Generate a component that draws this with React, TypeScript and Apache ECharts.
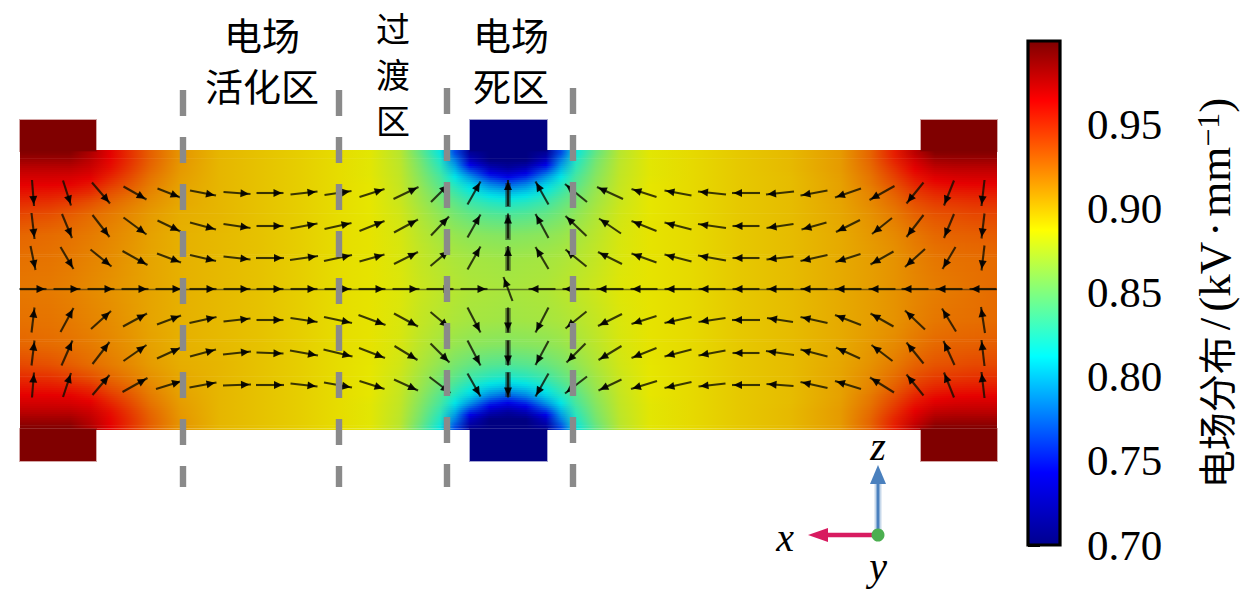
import React, { useEffect, useRef } from "react";
import * as echarts from "echarts";

// Colour scale of the field
const scaleValues = [0.7, 0.743, 0.812, 0.887, 0.964, 0.9993];
const scaleColors = [[0, 0, 143], [0, 0, 255], [0, 255, 255], [255, 255, 0], [255, 0, 0], [128, 0, 0]];
const scaleTicks = [0.7, 0.75, 0.8, 0.85, 0.9, 0.95];
const fieldShade = 0.9;

// Field samples: x stations (left to right) and one list per height (top half, the bottom half mirrors it)
const stationX = [20, 50, 70, 90, 110, 130, 150, 180, 220, 260, 300, 340, 370, 400, 420, 440, 455, 470, 490, 508, 526, 546, 561, 576, 596, 620, 650, 690, 740, 790, 840, 870, 895, 915, 935, 955, 975, 997];
const row153 = [0.998, 0.998, 0.998, 0.985, 0.965, 0.948, 0.932, 0.914, 0.903, 0.899, 0.895, 0.89, 0.886, 0.872, 0.845, 0.815, 0.765, 0.71, 0.7, 0.7, 0.7, 0.71, 0.765, 0.815, 0.845, 0.872, 0.886, 0.891, 0.897, 0.902, 0.912, 0.93, 0.955, 0.98, 0.998, 0.998, 0.998, 0.998];
const row160 = [0.99, 0.99, 0.99, 0.98, 0.963, 0.948, 0.932, 0.914, 0.903, 0.899, 0.895, 0.89, 0.886, 0.873, 0.85, 0.822, 0.78, 0.725, 0.7, 0.7, 0.7, 0.725, 0.78, 0.822, 0.85, 0.873, 0.886, 0.891, 0.897, 0.902, 0.912, 0.93, 0.953, 0.972, 0.988, 0.99, 0.99, 0.99];
const row168 = [0.98, 0.98, 0.98, 0.974, 0.96, 0.945, 0.93, 0.913, 0.903, 0.899, 0.895, 0.89, 0.886, 0.874, 0.853, 0.828, 0.795, 0.755, 0.722, 0.712, 0.722, 0.755, 0.795, 0.828, 0.853, 0.874, 0.886, 0.891, 0.897, 0.902, 0.912, 0.928, 0.948, 0.965, 0.978, 0.98, 0.98, 0.98];
const row176 = [0.972, 0.972, 0.971, 0.967, 0.953, 0.94, 0.926, 0.912, 0.903, 0.899, 0.895, 0.89, 0.886, 0.875, 0.856, 0.835, 0.81, 0.785, 0.752, 0.74, 0.752, 0.785, 0.81, 0.835, 0.856, 0.875, 0.886, 0.891, 0.897, 0.901, 0.911, 0.925, 0.943, 0.958, 0.968, 0.971, 0.972, 0.972];
const row184 = [0.965, 0.965, 0.964, 0.958, 0.946, 0.935, 0.923, 0.91, 0.903, 0.899, 0.895, 0.89, 0.887, 0.876, 0.859, 0.84, 0.822, 0.805, 0.782, 0.77, 0.782, 0.805, 0.822, 0.84, 0.859, 0.876, 0.887, 0.891, 0.897, 0.901, 0.91, 0.923, 0.938, 0.952, 0.96, 0.963, 0.964, 0.964];
const row192 = [0.958, 0.957, 0.955, 0.95, 0.938, 0.93, 0.92, 0.909, 0.903, 0.899, 0.895, 0.89, 0.887, 0.877, 0.862, 0.846, 0.832, 0.818, 0.803, 0.797, 0.803, 0.818, 0.832, 0.846, 0.862, 0.877, 0.887, 0.891, 0.897, 0.901, 0.91, 0.92, 0.933, 0.945, 0.952, 0.955, 0.956, 0.956];
const row202 = [0.95, 0.948, 0.944, 0.938, 0.93, 0.923, 0.916, 0.908, 0.903, 0.899, 0.895, 0.89, 0.887, 0.878, 0.865, 0.852, 0.842, 0.832, 0.824, 0.82, 0.824, 0.832, 0.842, 0.852, 0.865, 0.878, 0.887, 0.891, 0.897, 0.901, 0.909, 0.918, 0.928, 0.938, 0.944, 0.946, 0.948, 0.948];
const row215 = [0.94, 0.937, 0.933, 0.928, 0.923, 0.918, 0.912, 0.906, 0.903, 0.899, 0.895, 0.89, 0.887, 0.88, 0.869, 0.859, 0.851, 0.845, 0.84, 0.838, 0.84, 0.845, 0.851, 0.859, 0.869, 0.88, 0.887, 0.891, 0.897, 0.901, 0.908, 0.915, 0.923, 0.931, 0.936, 0.938, 0.94, 0.94];
const row235 = [0.93, 0.928, 0.926, 0.923, 0.919, 0.915, 0.91, 0.905, 0.902, 0.899, 0.895, 0.89, 0.888, 0.882, 0.873, 0.866, 0.861, 0.858, 0.856, 0.855, 0.856, 0.858, 0.861, 0.866, 0.873, 0.882, 0.888, 0.891, 0.897, 0.901, 0.907, 0.913, 0.918, 0.924, 0.929, 0.931, 0.932, 0.933];
const row260 = [0.926, 0.925, 0.923, 0.92, 0.917, 0.913, 0.909, 0.905, 0.902, 0.899, 0.895, 0.89, 0.888, 0.883, 0.876, 0.871, 0.868, 0.866, 0.865, 0.864, 0.865, 0.866, 0.868, 0.871, 0.876, 0.883, 0.888, 0.891, 0.897, 0.901, 0.907, 0.911, 0.915, 0.92, 0.924, 0.926, 0.927, 0.928];
const row290 = [0.924, 0.923, 0.921, 0.918, 0.915, 0.912, 0.909, 0.905, 0.902, 0.899, 0.895, 0.89, 0.888, 0.884, 0.878, 0.874, 0.871, 0.869, 0.868, 0.867, 0.868, 0.869, 0.872, 0.875, 0.879, 0.885, 0.888, 0.891, 0.897, 0.901, 0.907, 0.911, 0.915, 0.919, 0.922, 0.924, 0.926, 0.928];
const fieldRowY = [150, 153, 160, 168, 176, 184, 192, 202, 215, 235, 260, 290, 320, 345, 365, 378, 388, 396, 404, 412, 420, 427, 430];
const fieldRows = [row153, row153, row160, row168, row176, row184, row192, row202, row215, row235, row260, row290, row260, row235, row215, row202, row192, row184, row176, row168, row160, row153, row153];

// Electrodes
const electrodeX0 = [20, 921, 470, 20, 921, 470];
const electrodeX1 = [96, 997, 547, 96, 997, 547];
const electrodeY0 = [120, 120, 120, 429, 429, 429];
const electrodeY1 = [151, 151, 151, 461, 461, 461];
const electrodeV = [0.9993, 0.9993, 0.7, 0.9993, 0.9993, 0.7];

// Arrow field: positions and tail-to-head components per row
const arrowX = [33, 67, 101, 135, 169, 203, 237, 270, 304, 338, 372, 406, 440, 474, 508, 542, 576, 610, 644, 678, 712, 746, 780, 814, 848, 882, 915, 949, 983];
const arrowY = [193, 226, 258, 289, 320, 353, 385];
const dx193 = [2, 8, 18, 23, 23, 26, 27, 27, 27, 27, 25, 25, 18, 13, 0, -13, -22, -26, -25, -27, -28, -28, -28, -27, -26, -25, -17, -10, -3];
const dy193 = [26, 25, 21, 13, 9, 5, 2, 0, -3, -4, -8, -12, -18, -23, -26, -23, -18, -12, -8, -5, -3, 0, 3, 5, 9, 14, 21, 25, 26];
const dx226 = [3, 10, 17, 23, 23, 26, 27, 27, 27, 27, 25, 24, 18, 13, 0, -13, -21, -22, -25, -27, -28, -27, -27, -25, -24, -20, -17, -10, -3];
const dy226 = [26, 24, 22, 17, 11, 7, 4, 0, -5, -6, -10, -13, -19, -23, -25, -24, -20, -15, -10, -7, -4, 0, 4, 7, 12, 16, 22, 24, 25];
const dx258 = [5, 13, 21, 25, 24, 26, 27, 28, 28, 28, 25, 24, 19, 13, 0, -13, -21, -24, -25, -27, -28, -27, -27, -27, -25, -23, -20, -13, -3];
const dy258 = [24, 22, 17, 14, 9, 6, 3, 0, -4, -6, -7, -12, -16, -23, -24, -22, -17, -12, -9, -7, -5, 0, 3, 6, 8, 13, 18, 22, 25];
const dx289 = [27, 27, 27, 27, 27, 27, 27, 27, 27, 27, 27, 27, 27, 27, -9, -27, -27, -27, -27, -27, -27, -27, -27, -27, -27, -27, -27, -27, -27];
const dy289 = [0, 0, 0, 0, 0, 0, 0, 0, 0, 0, 0, 0, 0, 0, -24, 0, 0, 0, 0, 0, 0, 0, 0, 0, 0, 0, 0, 0, 0];
const dx320 = [3, 13, 20, 24, 24, 27, 27, 27, 27, 28, 27, 24, 19, 13, 0, -13, -21, -24, -25, -27, -27, -28, -26, -27, -26, -23, -20, -14, -4];
const dy320 = [-25, -24, -18, -13, -9, -6, -3, 0, 4, 6, 10, 13, 16, 25, 25, 25, 17, 12, 8, 6, 4, 0, -4, -6, -10, -13, -19, -23, -26];
const dx353 = [3, 11, 17, 23, 24, 26, 28, 27, 28, 29, 26, 23, 19, 13, 0, -13, -19, -23, -25, -27, -27, -27, -28, -27, -24, -21, -17, -11, -3];
const dy353 = [-25, -25, -22, -16, -11, -7, -3, 1, 5, 7, 10, 14, 19, 25, 25, 24, 19, 14, 10, 7, 5, 0, -4, -7, -11, -16, -21, -24, -26];
const dx385 = [2, 8, 17, 25, 26, 27, 28, 28, 27, 28, 25, 24, 21, 13, 0, -13, -22, -23, -26, -27, -27, -28, -27, -27, -26, -24, -17, -10, -3];
const dy385 = [-25, -24, -20, -14, -8, -5, -1, 0, 3, 5, 8, 11, 16, 23, 25, 23, 17, 11, 8, 6, 3, 0, -2, -6, -8, -15, -21, -25, -26];
const arrowDx = [dx193, dx226, dx258, dx289, dx320, dx353, dx385];
const arrowDy = [dy193, dy226, dy258, dy289, dy320, dy353, dy385];

// Region boundaries and centre marks
const dashX = [183, 339, 447, 573];
const dashTop = [90, 90, 88, 88];
const dashBottom = [487, 487, 487, 487];
const centreX = 508;
const centreY0 = [183, 215, 247, 308, 340, 372];
const centreY1 = [207, 240, 271, 333, 365, 397];
const midlineX = [20, 997];
const midlineY = [289.5, 289.5];

// Orientation triad
const triadOrigin = [878, 535];
const triadZTip = [878, 465];
const triadXTip = [808, 535];

const regionLabels = [
  { text: "电场", x: 262, y: 33, size: 38 },
  { text: "活化区", x: 262, y: 84, size: 38 },
  { text: "过", x: 393, y: 27, size: 34 },
  { text: "渡", x: 393, y: 73, size: 34 },
  { text: "区", x: 393, y: 119, size: 34 },
  { text: "电场", x: 511, y: 33, size: 38 },
  { text: "死区", x: 511, y: 84, size: 38 },
];
const triadLabels = [
  { text: "z", x: 878, y: 446 },
  { text: "x", x: 785, y: 537 },
  { text: "y", x: 878, y: 566 },
];

const CJK = '"Noto Sans CJK SC"';
const SERIF = '"Liberation Serif"';

function scaleRgb(v: number): number[] {
  if (v <= scaleValues[0]) return scaleColors[0];
  for (let i = 1; i < scaleValues.length; i++) {
    if (v <= scaleValues[i]) {
      const t = (v - scaleValues[i - 1]) / (scaleValues[i] - scaleValues[i - 1]);
      return scaleColors[i].map((c, k) => scaleColors[i - 1][k] + (c - scaleColors[i - 1][k]) * t);
    }
  }
  return scaleColors[scaleColors.length - 1];
}
function css(rgb: number[], shade = 1, alpha = 1) {
  const [r, g, b] = rgb.map((c) => Math.round(c * shade));
  return alpha === 1 ? `rgb(${r},${g},${b})` : `rgba(${r},${g},${b},${alpha})`;
}
// The field image is a little darker than the colour bar, except in the darkest red.
function shadeOf(v: number) {
  return v > 0.964 ? fieldShade + ((1 - fieldShade) * (v - 0.964)) / 0.0353 : fieldShade;
}

export default function App() {
  const ref = useRef<HTMLDivElement>(null);
  useEffect(() => {
    document.body.style.margin = "0";
    const chart = echarts.init(ref.current!, null, { renderer: "svg" });

    const fieldData = fieldRowY.slice(0, -1).map((_, i) => [i]);
    const renderField = (_p: any, api: any) => {
      const i = api.value(0);
      const y0 = fieldRowY[i];
      const y1 = fieldRowY[i + 1];
      const a = fieldRows[i];
      const b = fieldRows[i + 1];
      const left = api.coord([stationX[0], y0])[0];
      const right = api.coord([stationX[stationX.length - 1], y0])[0];
      const span = stationX[stationX.length - 1] - stationX[0];
      const pieces = Math.max(1, Math.round((y1 - y0) / 2));
      const children: any[] = [];
      for (let p = 0; p < pieces; p++) {
        const t = (p + 0.5) / pieces;
        const top = api.coord([stationX[0], y0 + ((y1 - y0) * p) / pieces])[1];
        const h = ((y1 - y0) / pieces) * (api.size([0, 1])[1] as number);
        const stops = stationX.map((x, k) => {
          const v = a[k] + (b[k] - a[k]) * t;
          return { offset: (x - stationX[0]) / span, color: css(scaleRgb(v), shadeOf(v)) };
        });
        children.push({
          type: "rect",
          shape: { x: left, y: top, width: right - left, height: h + (y1 < 430 ? 0.6 : 0) },
          style: { fill: new echarts.graphic.LinearGradient(0, 0, 1, 0, stops) },
        });
      }
      return { type: "group", children };
    };

    const renderElectrode = (_p: any, api: any) => {
      const a = api.coord([api.value(0), api.value(2)]);
      const b = api.coord([api.value(1), api.value(3)]);
      const v = api.value(4);
      const rgb = scaleRgb(v);
      const shape = { x: a[0], y: a[1], width: b[0] - a[0], height: b[1] - a[1] };
      return {
        type: "group",
        children: [
          { type: "rect", shape, style: { fill: "none", stroke: css(rgb, shadeOf(v), 0.35), lineWidth: 2 } },
          { type: "rect", shape, style: { fill: css(rgb, shadeOf(v)) } },
        ],
      };
    };

    const arrowData: number[][] = [];
    arrowY.forEach((y, r) => arrowX.forEach((x, c) => arrowData.push([x, y, arrowDx[r][c], arrowDy[r][c]])));
    const renderArrow = (_p: any, api: any) => {
      const x = api.value(0);
      const y = api.value(1);
      const dx = api.value(2);
      const dy = api.value(3);
      const t = api.coord([x - dx / 2, y - dy / 2]);
      const h = api.coord([x + dx / 2, y + dy / 2]);
      const len = Math.hypot(h[0] - t[0], h[1] - t[1]) || 1;
      const ux = (h[0] - t[0]) / len;
      const uy = (h[1] - t[1]) / len;
      const tip = [h[0] - ux * 1.5, h[1] - uy * 1.5];
      const base = [h[0] - ux * 10, h[1] - uy * 10];
      return {
        type: "group",
        children: [
          { type: "line", shape: { x1: t[0], y1: t[1], x2: h[0], y2: h[1] }, style: { stroke: "rgba(15,15,0,0.8)", lineWidth: 2.1 } },
          {
            type: "polygon",
            shape: { points: [tip, [base[0] - uy * 4, base[1] + ux * 4], [base[0] + uy * 4, base[1] - ux * 4]] },
            style: { fill: "rgba(0,0,0,0.92)" },
          },
        ],
      };
    };

    const renderCentre = (_p: any, api: any) => {
      const a = api.coord([api.value(0), api.value(1)]);
      const b = api.coord([api.value(0), api.value(2)]);
      return { type: "rect", shape: { x: a[0] - 2.7, y: a[1], width: 5.4, height: b[1] - a[1] }, style: { fill: "rgba(30,30,30,0.55)" } };
    };

    const renderTriad = (_p: any, api: any) => {
      const o = api.coord([api.value(0), api.value(1)]);
      const z = api.coord([api.value(2), api.value(3)]);
      const x = api.coord([api.value(4), api.value(5)]);
      return {
        type: "group",
        children: [
          { type: "line", shape: { x1: o[0], y1: o[1], x2: z[0], y2: z[1] + 15 }, style: { stroke: "rgba(74,128,190,0.3)", lineWidth: 7 } },
          { type: "line", shape: { x1: o[0], y1: o[1], x2: z[0], y2: z[1] + 15 }, style: { stroke: "#4a80be", lineWidth: 3 } },
          { type: "polygon", shape: { points: [[z[0], z[1]], [z[0] - 8, z[1] + 19], [z[0] + 8, z[1] + 19]] }, style: { fill: "#4a80be" } },
          { type: "line", shape: { x1: o[0], y1: o[1], x2: x[0] + 15, y2: x[1] }, style: { stroke: "#d81b60", lineWidth: 4.5 } },
          { type: "polygon", shape: { points: [[x[0], x[1]], [x[0] + 20, x[1] - 7], [x[0] + 20, x[1] + 7]] }, style: { fill: "#d81b60" } },
          { type: "circle", shape: { cx: o[0], cy: o[1], r: 6.5 }, style: { fill: "#4caf50" } },
        ],
      };
    };

    const renderBar = (_p: any, api: any) => {
      const top = api.coord([0, scaleValues[scaleValues.length - 1]]);
      const bottom = api.coord([1, scaleValues[0]]);
      const span = scaleValues[scaleValues.length - 1] - scaleValues[0];
      const stops = scaleValues
        .map((v, i) => ({ offset: (scaleValues[scaleValues.length - 1] - v) / span, color: css(scaleColors[i]) }))
        .reverse();
      return {
        type: "rect",
        shape: { x: top[0], y: top[1], width: bottom[0] - top[0], height: bottom[1] - top[1] },
        style: { fill: new echarts.graphic.LinearGradient(0, 0, 0, 1, stops), stroke: "#000", lineWidth: 3.2 },
      };
    };

    const hiddenAxis = { show: false, type: "value" as const };
    chart.setOption({
      animation: false,
      backgroundColor: "#fff",
      grid: [
        { left: 0, top: 0, width: 1260, height: 591 },
        { left: 1028, top: 41, width: 32, height: 504 },
      ],
      xAxis: [
        { ...hiddenAxis, gridIndex: 0, min: 0, max: 1260 },
        { ...hiddenAxis, gridIndex: 1, min: 0, max: 1 },
      ],
      yAxis: [
        { ...hiddenAxis, gridIndex: 0, min: 0, max: 591, inverse: true },
        {
          type: "value",
          gridIndex: 1,
          position: "right",
          min: scaleValues[0],
          max: scaleValues[scaleValues.length - 1],
          splitLine: { show: false },
          axisLine: { show: false },
          axisTick: { show: true, customValues: scaleTicks, length: 12, lineStyle: { color: "#000", width: 3 } },
          axisLabel: {
            customValues: scaleTicks,
            margin: 27,
            formatter: (v: number) => v.toFixed(2),
            fontFamily: SERIF,
            fontSize: 43,
            color: "#000",
          },
          name: "{c|电场分布}{sl|/}{l|(kV}{d|·}{l|mm}{s|−1}{l|)}",
          nameLocation: "middle",
          nameRotate: 90,
          nameGap: 132,
          nameTextStyle: {
            rich: {
              c: { fontFamily: CJK, fontSize: 38, color: "#000" },
              l: { fontFamily: SERIF, fontSize: 45, color: "#000" },
              sl: { fontFamily: SERIF, fontSize: 45, color: "#000", padding: [0, 6, 0, 6] },
              d: { fontFamily: SERIF, fontSize: 45, color: "#000", padding: [0, 5, 0, 5] },
              s: { fontFamily: SERIF, fontSize: 32, color: "#000", verticalAlign: "top", padding: [0, 0, 12, 0] },
            },
          },
        },
      ],
      series: [
        { type: "custom", xAxisIndex: 0, yAxisIndex: 0, silent: true, clip: false, z: 1, renderItem: renderField, data: fieldData },
        {
          type: "custom", xAxisIndex: 0, yAxisIndex: 0, silent: true, clip: false, z: 2, renderItem: renderElectrode,
          data: electrodeX0.map((x, i) => [x, electrodeX1[i], electrodeY0[i], electrodeY1[i], electrodeV[i]]),
        },
        {
          type: "line", xAxisIndex: 0, yAxisIndex: 0, silent: true, symbol: "none", z: 3,
          lineStyle: { color: "rgba(30,30,20,0.55)", width: 1.3 },
          data: midlineX.map((x, i) => [x, midlineY[i]]),
        },
        {
          type: "custom", xAxisIndex: 0, yAxisIndex: 0, silent: true, clip: false, z: 4, renderItem: renderCentre,
          data: centreY0.map((y, i) => [centreX, y, centreY1[i]]),
        },
        { type: "custom", xAxisIndex: 0, yAxisIndex: 0, silent: true, clip: false, z: 5, renderItem: renderArrow, data: arrowData },
        ...dashX.map((x, i) => ({
          type: "line" as const, xAxisIndex: 0, yAxisIndex: 0, silent: true, symbol: "none", z: 6,
          lineStyle: { color: "#8a8a8a", width: 6.4, type: [26, 21], cap: "butt" },
          data: [[x, dashTop[i]], [x, dashBottom[i]]],
        })),
        {
          type: "custom", xAxisIndex: 0, yAxisIndex: 0, silent: true, clip: false, z: 7, renderItem: renderTriad,
          data: [[triadOrigin[0], triadOrigin[1], triadZTip[0], triadZTip[1], triadXTip[0], triadXTip[1]]],
        },
        { type: "custom", xAxisIndex: 1, yAxisIndex: 1, silent: true, clip: false, z: 2, renderItem: renderBar, data: [[0]] },
      ],
      graphic: [
        ...regionLabels.map((l) => ({
          type: "text", x: l.x, y: l.y, z: 20, silent: true,
          style: { text: l.text, font: `${l.size}px ${CJK}`, fill: "#000", align: "center", verticalAlign: "middle" },
        })),
        ...triadLabels.map((l) => ({
          type: "text", x: l.x, y: l.y, z: 20, silent: true,
          style: { text: l.text, font: `italic 40px ${SERIF}`, fill: "#000", align: "center", verticalAlign: "middle" },
        })),
      ],
    });
    return () => chart.dispose();
  }, []);
  return <div ref={ref} style={{ position: "fixed", left: 0, top: 0, width: 1260, height: 591 }} />;
}
